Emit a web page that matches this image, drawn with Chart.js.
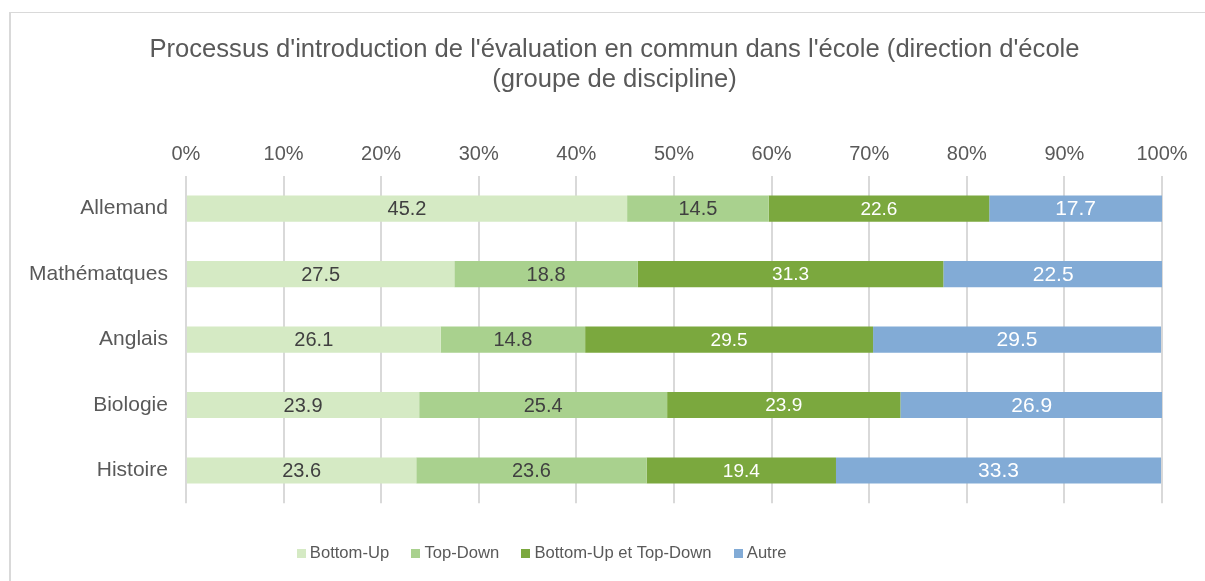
<!DOCTYPE html>
<html>
<head>
<meta charset="utf-8">
<script src="https://cdn.jsdelivr.net/npm/chart.js@4"></script>
<style>
  html, body { margin: 0; padding: 0; background: #fff; }
  #frame { position: absolute; left: 9px; top: 12px; width: 1300px; height: 700px;
           border-top: 1px solid #d9d9d9; border-left: 2px solid #d9d9d9; }
  #wrap { position: absolute; left: 0; top: 0; width: 1205px; height: 581px; }
</style>
</head>
<body>
<div id="frame"></div>
<div id="wrap"><canvas id="chart" width="1205" height="581"></canvas></div>
<script>
// categories (top to bottom)
const subjects = ["Allemand", "Mathématques", "Anglais", "Biologie", "Histoire"];

// series values (percent)
const bottomUp = [45.2, 27.5, 26.1, 23.9, 23.6];
const topDown = [14.5, 18.8, 14.8, 25.4, 23.6];
const bothWays = [22.6, 31.3, 29.5, 23.9, 19.4];
const other = [17.7, 22.5, 29.5, 26.9, 33.3];

const seriesNames = ["Bottom-Up", "Top-Down", "Bottom-Up et Top-Down", "Autre"];
const seriesColors = ["#d5eac4", "#a9d18e", "#7ba83e", "#82abd6"];
const labelColors = ["#404040", "#404040", "#ffffff", "#ffffff"];
const labelSizes = [20, 20, 19, 21];

const titleLines = ["Processus d'introduction de l'évaluation en commun dans l'école (direction d'école", "(groupe de discipline)"];

// small square legend markers, placed close to the text like in the original
function legendSquare(color) {
    const c = document.createElement("canvas");
    c.width = 9;
    c.height = 9;
    const g = c.getContext("2d");
    g.fillStyle = color;
    g.fillRect(0, 0, 9, 9);
    return c;
}

// draws the value in the middle of each bar segment
const barLabels = {
    id: "barLabels",
    afterDatasetsDraw(chart) {
        const ctx = chart.ctx;
        ctx.save();
        ctx.textAlign = "center";
        ctx.textBaseline = "middle";
        chart.data.datasets.forEach((ds, i) => {
            const meta = chart.getDatasetMeta(i);
            ctx.fillStyle = labelColors[i];
            ctx.font = labelSizes[i] + "px 'Liberation Sans', Arial, sans-serif";
            meta.data.forEach((bar, j) => {
                const cx = (bar.x + bar.base) / 2;
                ctx.fillText(ds.data[j].toFixed(1), cx, bar.y + 1);
            });
        });
        ctx.restore();
    }
};

// the original centres the title a bit to the right and the legend a bit to the left
const nudgeBoxes = {
    id: "nudgeBoxes",
    afterLayout(chart) {
        if (chart.titleBlock) { chart.titleBlock.left += 28; chart.titleBlock.right += 28; }
        if (chart.legend) { chart.legend.left -= 43; chart.legend.right -= 43; }
    }
};

Chart.defaults.font.family = "'Liberation Sans', Arial, sans-serif";
Chart.defaults.color = "#595959";

let ctx = document.getElementById("chart").getContext("2d");
let chart = new Chart(ctx, {
    type: "bar",
    data: {
        labels: subjects,
        datasets: [bottomUp, topDown, bothWays, other].map((d, i) => ({
            label: seriesNames[i],
            data: d,
            backgroundColor: seriesColors[i],
            pointStyle: legendSquare(seriesColors[i]),
            borderWidth: 0,
            barPercentage: 0.4,
            categoryPercentage: 1.0
        }))
    },
    options: {
        indexAxis: "y",
        responsive: false,
        animation: false,
        layout: { padding: { left: 11, right: 43, top: 0, bottom: 9 } },
        scales: {
            x: {
                position: "top",
                stacked: true,
                min: 0,
                max: 100,
                ticks: {
                    stepSize: 10,
                    padding: 9,
                    font: { size: 20 },
                    callback: (v) => v + "%"
                },
                grid: { color: "#d9d9d9", lineWidth: 2, drawTicks: false },
                border: { display: false }
            },
            y: {
                stacked: true,
                ticks: { padding: 18, font: { size: 21 } },
                grid: { display: false, drawTicks: false },
                border: { display: false }
            }
        },
        plugins: {
            title: {
                display: true,
                text: titleLines,
                color: "#595959",
                font: { size: 25.6, weight: "normal", lineHeight: 1.17 },
                padding: { top: 35, bottom: 39 }
            },
            legend: {
                position: "bottom",
                title: { display: true, text: " ", font: { size: 1 }, padding: { top: 0, bottom: 15 } },
                labels: {
                    usePointStyle: true,
                    boxWidth: 1,
                    boxHeight: 9,
                    padding: 26,
                    font: { size: 16.6 },
                    color: "#595959"
                }
            },
            tooltip: { enabled: false }
        }
    },
    plugins: [barLabels, nudgeBoxes]
});
</script>
</body>
</html>
